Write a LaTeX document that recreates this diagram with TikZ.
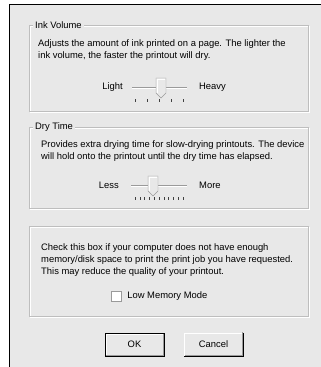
\documentclass[tikz,border=0pt]{standalone}
\usepackage{fontspec}
\setmainfont{Liberation Sans}
\usetikzlibrary{positioning}
\definecolor{dlgface}{HTML}{E8E8E8}
\definecolor{etchgray}{HTML}{BEBEBE}
\definecolor{shadowgray}{HTML}{9A9A9A}
\begin{document}
\begin{tikzpicture}[x=1pt,y=-1pt,
    groupbox/.style={draw=etchgray},
    grouphigh/.style={draw=white},
    grouplabel/.style={anchor=west,fill=dlgface,inner xsep=2pt},
    blurb/.style={anchor=north west,align=left},
    track/.style={draw=shadowgray},
    thumb/.style={fill=dlgface,draw=shadowgray},
    tickmark/.style={draw=black!75},
    button/.style={minimum width=59pt,minimum height=23pt,fill=dlgface}]
\tikzset{every node/.style={font=\fontsize{9.4}{12}\selectfont,inner sep=0pt}}
%\tikzset{every node/.style={font=\sffamily\small}}
\useasboundingbox (0,0) rectangle (321,367);
\fill[white] (0,0) rectangle (321,367);
\fill[dlgface] (9,4) rectangle (321,367);
\draw[line width=1.5pt] (321,4.5) -- (9.5,4.5) -- (9.5,367);

% ink volume
\draw[grouphigh] (30.5,26.5) rectangle (309.5,112.5);
\draw[groupbox] (29.5,25.5) rectangle (308.5,111.5);
\node[grouplabel] (inklabel) at (33,25.5) {Ink Volume};
\node[blurb] (inktext) at (38,39.5) {Adjusts the amount of ink printed on a page. The lighter the\\ink volume, the faster the printout will dry.};
\node[anchor=east] (light) at (123,87) {Light};
\node[anchor=west] (heavy) at (199,87) {Heavy};
\coordinate (inkleft) at (132,87);
\coordinate (inkright) at (187,87);
\draw[track] (inkleft) -- (inkright);
\draw[white] ([shift={(0,1)}]inkleft) -- ([shift={(0,1)}]inkright);
\foreach \x in {135,147,159,171,183}
    \draw[tickmark] (\x,99) -- (\x,102);
\draw[thumb] (156,78) -- (166,78) -- (166,93) -- (161,98) -- (156,93) -- cycle;
\draw[white] (156.8,93) -- (156.8,78.8) -- (165.2,78.8);

% dry time
\draw[grouphigh] (30.5,128.5) rectangle (309.5,209.5);
\draw[groupbox] (29.5,127.5) rectangle (308.5,208.5);
\node[grouplabel] (drylabel) at (33,127.5) {Dry Time};
\node[blurb] (drytext) at (41,140.5) {Provides extra drying time for slow-drying printouts. The device\\will hold onto the printout until the dry time has elapsed.};
\node[anchor=east] (less) at (119,185) {Less};
\node[anchor=west] (more) at (199,185) {More};
\coordinate (dryleft) at (131,185);
\coordinate (dryright) at (187,185);
\draw[track] (dryleft) -- (dryright);
\draw[white] ([shift={(0,1)}]dryleft) -- ([shift={(0,1)}]dryright);
\foreach \i in {0,...,10}
    \draw[tickmark] (135+4.8*\i,197) -- (135+4.8*\i,200);
\draw[thumb] (148,176) -- (158,176) -- (158,191) -- (153,196) -- (148,191) -- cycle;
\draw[white] (148.8,191) -- (148.8,176.8) -- (157.2,176.8);

% low memory
\draw[grouphigh] (30.5,227.5) rectangle (309.5,317.5);
\draw[groupbox] (29.5,226.5) rectangle (308.5,316.5);
\node[blurb] (memtext) at (41,243.5) {Check this box if your computer does not have enough\\memory/disk space to print the print job you have requested.\\This may reduce the quality of your printout.};
\node[draw=shadowgray,fill=white,minimum size=10pt] (lowbox) at (116,296) {};
\node[right=6pt of lowbox] (lowlabel) {Low Memory Mode};

% buttons
\node[button,draw=black] (ok) at (134.5,344.5) {OK};
\node[button] (cancel) at (213.5,344.5) {Cancel};
\draw[white] (cancel.south west) -- (cancel.north west) -- (cancel.north east);
\draw[black] (cancel.north east) -- (cancel.south east) -- (cancel.south west);
\draw[shadowgray] ([shift={(-1,-1)}]cancel.north east) -- ([shift={(-1,-1)}]cancel.south east) -- ([shift={(1,-1)}]cancel.south west);
\draw[white] ([shift={(1,-1)}]ok.south west) -- ([shift={(1,1)}]ok.north west) -- ([shift={(-1,1)}]ok.north east);
\draw[shadowgray] ([shift={(-1,1)}]ok.north east) -- ([shift={(-1,-1)}]ok.south east) -- ([shift={(1,-1)}]ok.south west);
\end{tikzpicture}
\end{document}
